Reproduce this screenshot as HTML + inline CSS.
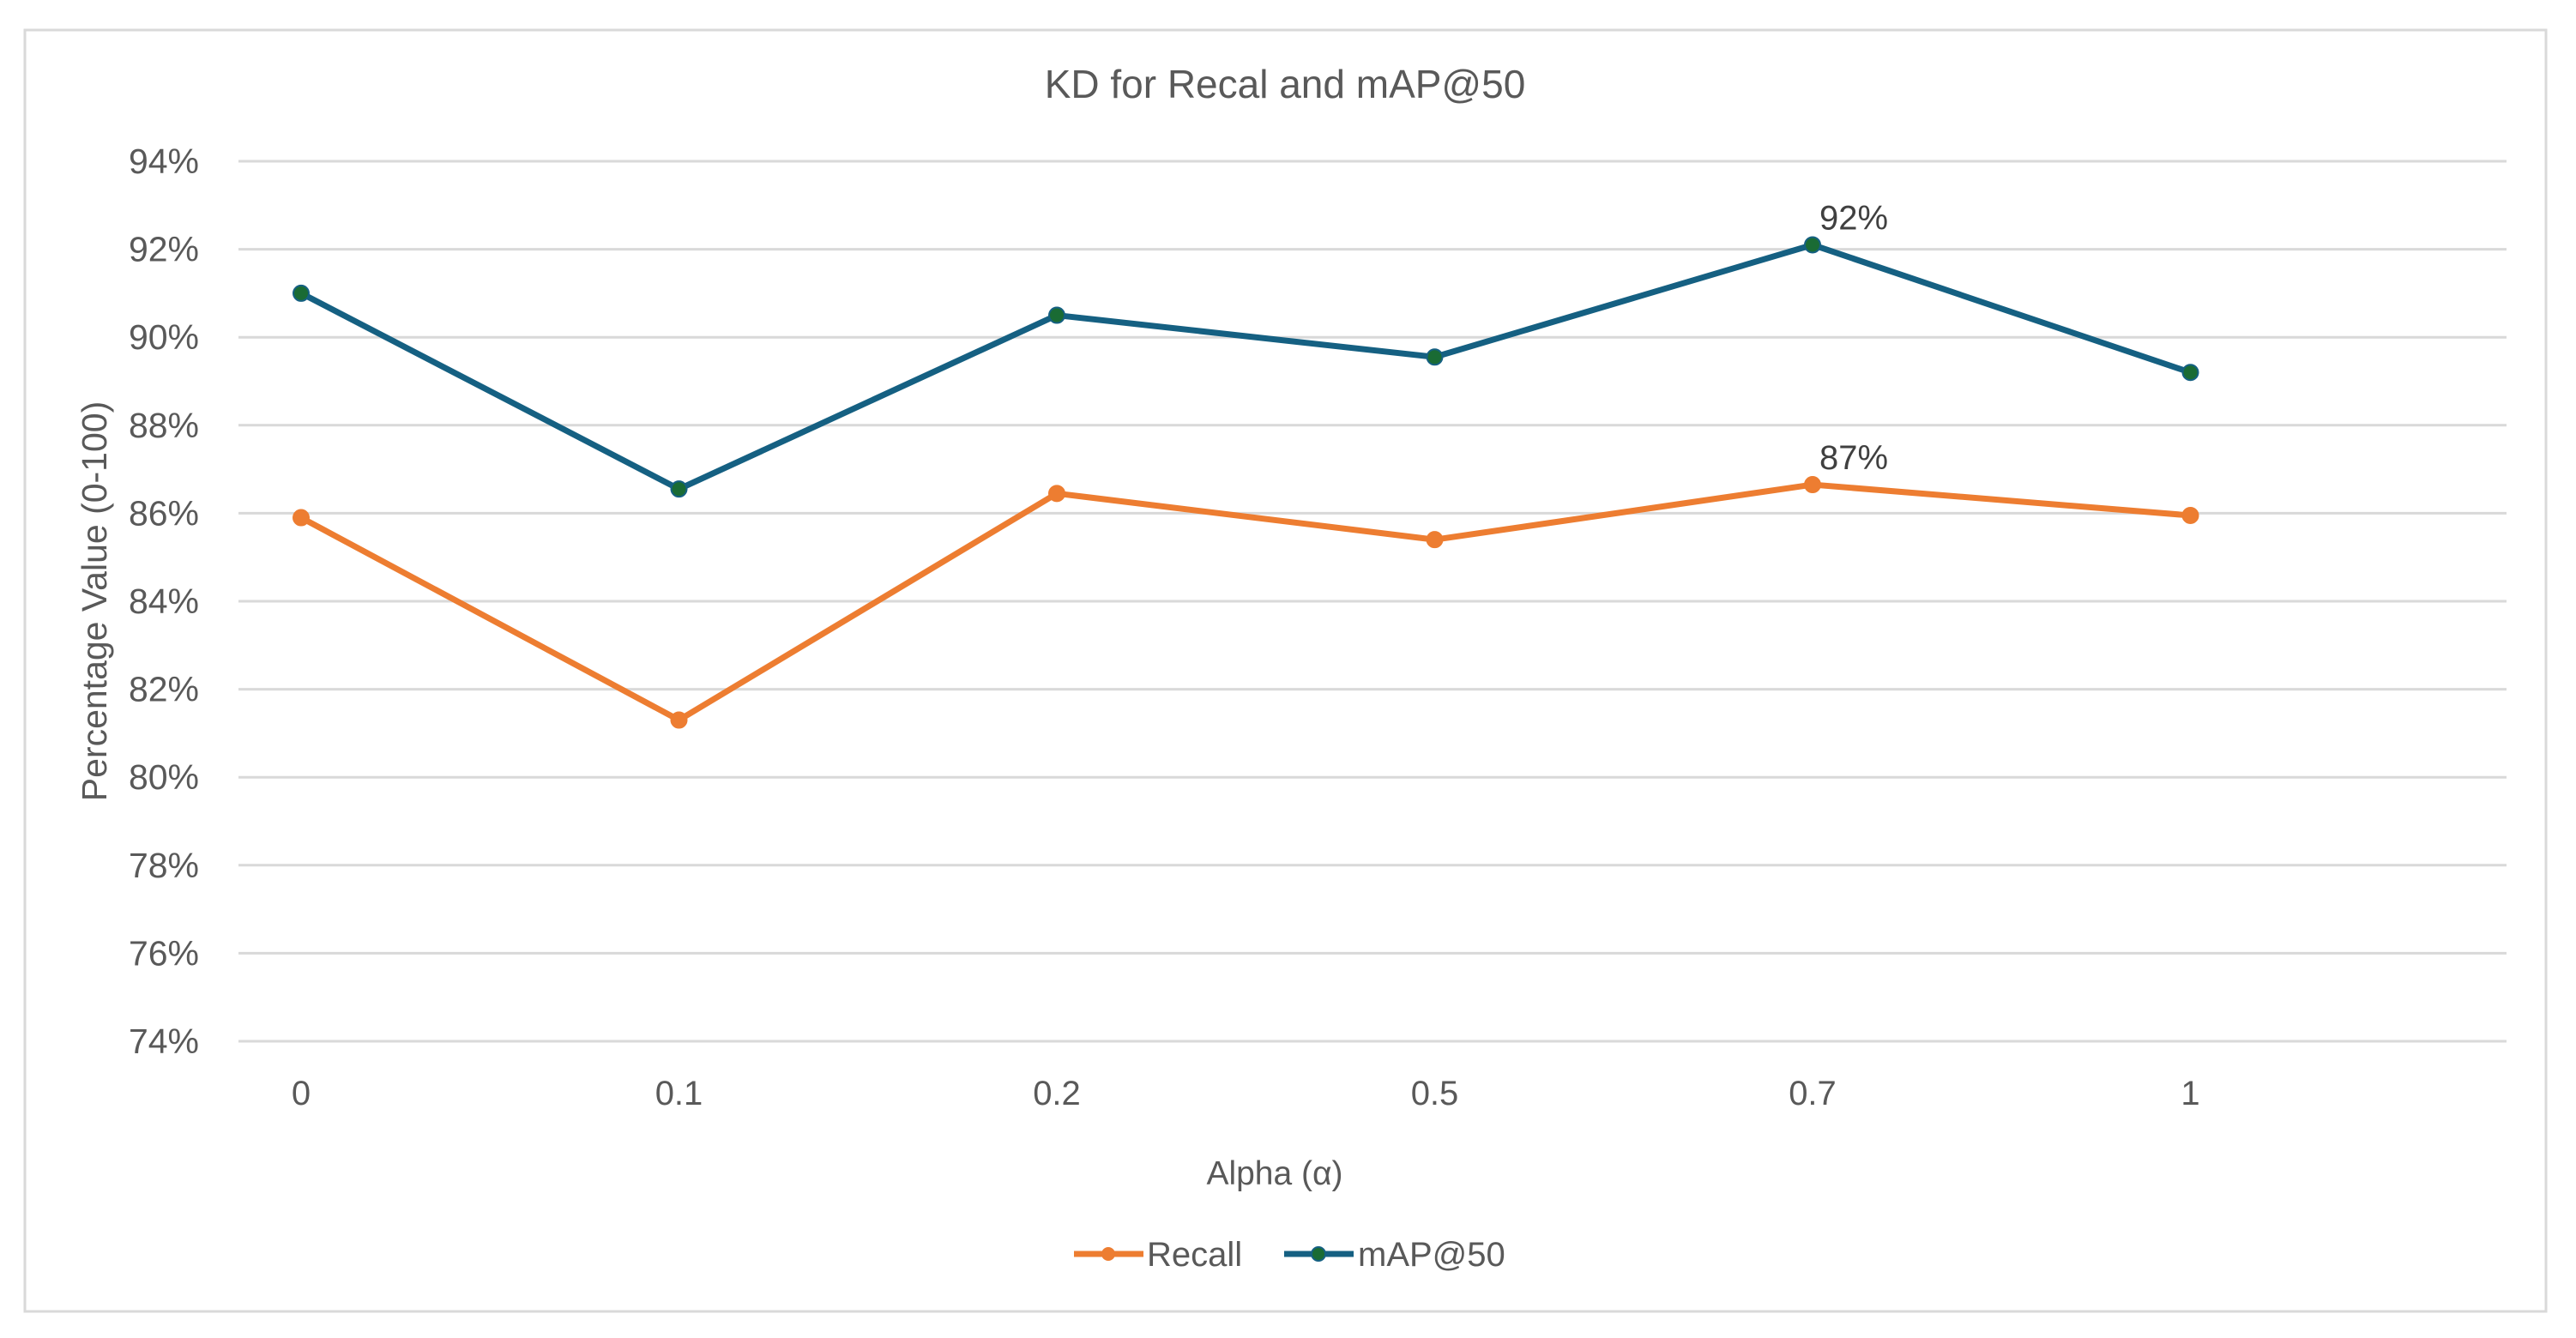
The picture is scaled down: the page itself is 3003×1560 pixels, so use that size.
<!DOCTYPE html>
<html><head><meta charset="utf-8"><style>
html,body{margin:0;padding:0;background:#fff;}
svg{display:block;font-family:"Liberation Sans",sans-serif;}
</style></head><body>
<svg id="chart" width="3003" height="1560">
<rect x="29" y="35" width="2939" height="1494" fill="#fff" stroke="#d9d9d9" stroke-width="3"/>
<text x="1498" y="114" text-anchor="middle" font-size="46" fill="#595959">KD for Recal and mAP@50</text>
<g id="grid"></g><g id="series"></g>
<text x="1486" y="1381" text-anchor="middle" font-size="39" fill="#595959">Alpha (α)</text>
<text transform="translate(124,701) rotate(-90)" text-anchor="middle" font-size="41" fill="#595959">Percentage Value (0-100)</text>
<g>
<g><line x1="1252" y1="1462" x2="1333" y2="1462" stroke="#ED7D31" stroke-width="7"/><circle cx="1292" cy="1462" r="8" fill="#ED7D31"/><text x="1337" y="1476" font-size="40" fill="#595959">Recall</text></g>
<g><line x1="1497" y1="1462" x2="1578" y2="1462" stroke="#156082" stroke-width="7"/><circle cx="1537" cy="1462" r="8" fill="#1a6b34" stroke="#156082" stroke-width="2"/><text x="1583" y="1476" font-size="40" fill="#595959">mAP@50</text></g>
</g>
</svg>
<script>
const categories=["0","0.1","0.2","0.5","0.7","1"];
const recall=[85.9,81.3,86.45,85.4,86.65,85.95];
const map50=[91.0,86.55,90.5,89.55,92.1,89.2];
const yTicks=[74,76,78,80,82,84,86,88,90,92,94];
const NS="http://www.w3.org/2000/svg";
function xs(i){return 351+i*440.5;}
function ys(v){return 1214-(v-74)*(1214-188)/20;}
function mk(t,a,p){const e=document.createElementNS(NS,t);for(const k in a)e.setAttribute(k,a[k]);p.appendChild(e);return e;}
const grid=document.getElementById('grid'),ser=document.getElementById('series');
yTicks.forEach(v=>{
 const l=mk('line',{x1:278,x2:2922,y1:ys(v),y2:ys(v),stroke:'#d9d9d9','stroke-width':3},grid);
 
 
 const t=mk('text',{x:232,y:ys(v)+14,'text-anchor':'end','font-size':41,fill:'#595959'},grid);
 t.textContent=v+'%';
 
 
});
categories.forEach((c,i)=>{
 const t=mk('text',{x:xs(i),y:1288,'text-anchor':'middle','font-size':40,fill:'#595959'},grid);
 t.textContent=c;
 
 
});
function draw(vals,col,fill,name){
 const p=mk('polyline',{points:vals.map((v,i)=>xs(i)+','+ys(v)).join(' '),fill:'none',stroke:col,'stroke-width':7,'stroke-linejoin':'round'},ser);
 
 
 vals.forEach((v,i)=>{
  const c=mk('circle',{cx:xs(i),cy:ys(v),r:9,fill:fill,stroke:col,'stroke-width':2},ser);
  
  
 });
 let mi=0;vals.forEach((v,i)=>{if(v>vals[mi])mi=i;});
 const t=mk('text',{x:xs(mi)+8,y:ys(vals[mi])-18,'font-size':40,fill:'#404040'},ser);
 t.textContent=Math.round(vals[mi])+'%';
 
 
}
draw(recall,'#ED7D31','#ED7D31','recall');
draw(map50,'#156082','#1a6b34','map50');
</script>
</body></html>
